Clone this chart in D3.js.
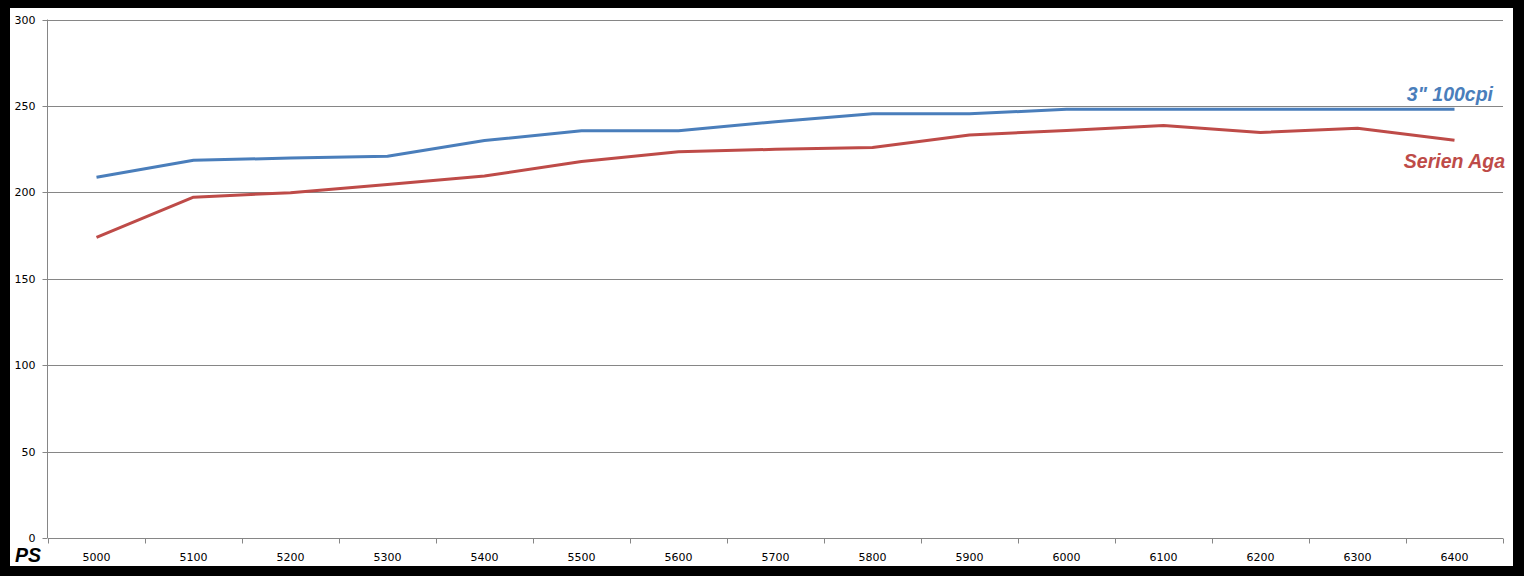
<!DOCTYPE html>
<html><head><meta charset="utf-8">
<script src="https://cdn.jsdelivr.net/npm/d3@7"></script>
<style>body{margin:0;background:#000}svg{display:block}</style>
</head><body>
<script>
const categories = ["5000","5100","5200","5300","5400","5500","5600","5700","5800","5900","6000","6100","6200","6300","6400"];
const blueValues = [208.7,218.6,219.8,220.9,230,235.6,235.6,240.9,245.4,245.4,248,248,248,248,248];
const redValues  = [174,197.2,199.8,204.6,209.4,217.8,223.5,224.9,226,233.2,235.8,238.6,234.6,237.1,230.2];
const yTicks = [0,50,100,150,200,250,300];
const seriesNames = ["3\" 100cpi","Serien Aga"];
const xAxisTitle = "PS";

(function(){
const W = 1524, H = 576;
const svg = d3.select("body").append("svg").attr("width", W).attr("height", H);
svg.append("rect").attr("x",0).attr("y",0).attr("width",W).attr("height",H).attr("fill","#000");
svg.append("rect").attr("x",10).attr("y",8).attr("width",1503).attr("height",558).attr("fill","#fff");

const pL = 48, pR = 1503, pT = 19.5, pB = 538;
const x = d3.scaleBand().domain(categories).range([pL, pR]);
const y = d3.scaleLinear().domain([0,300]).range([pB, pT]);
const grid = "#868686";

// gridlines
svg.append("g").selectAll("line").data(yTicks.filter(d=>d>0)).join("line")
  .attr("x1", pL).attr("x2", pR)
  .attr("y1", d=>Math.round(y(d))+0.5).attr("y2", d=>Math.round(y(d))+0.5)
  .attr("stroke", grid).attr("stroke-width",1);

// y axis
const yAxis = d3.axisLeft(y).tickValues(yTicks).tickSize(5).tickPadding(7);
const gy = svg.append("g").attr("transform",`translate(${pL-0.5},0)`).call(yAxis);
gy.select(".domain").attr("stroke",grid).attr("d",`M0,${pB}V${pT}`);
gy.selectAll(".tick line").attr("stroke",grid);
gy.selectAll(".tick").attr("transform", d=>`translate(0,${Math.round(y(d))+0.5})`);
gy.selectAll("text").attr("font-family","Tahoma, 'DejaVu Sans', sans-serif").attr("font-size","11px").attr("fill","#000");

// x axis
const gx = svg.append("g").attr("transform",`translate(0,${pB+0.5})`);
gx.append("line").attr("x1",pL).attr("x2",pR).attr("stroke",grid);
const bounds = categories.map(c=>x(c)).concat([pR]);
gx.selectAll("line.t").data(bounds).join("line").attr("class","t")
  .attr("x1",d=>Math.round(d)+0.5).attr("x2",d=>Math.round(d)+0.5).attr("y1",0).attr("y2",5).attr("stroke",grid);
gx.selectAll("text").data(categories).join("text")
  .attr("x", d=>x(d)+x.bandwidth()/2).attr("y", 22)
  .attr("text-anchor","middle").attr("font-family","Tahoma, 'DejaVu Sans', sans-serif").attr("font-size","11px").attr("fill","#000")
  .text(d=>d);

// lines
const line = vals => d3.line().x((d,i)=>x(categories[i])+x.bandwidth()/2).y(d=>y(d))(vals);
svg.append("path").attr("d", line(blueValues)).attr("fill","none").attr("stroke","#4A7EBB").attr("stroke-width",3).attr("stroke-linejoin","round");
svg.append("path").attr("d", line(redValues)).attr("fill","none").attr("stroke","#BE4B48").attr("stroke-width",3).attr("stroke-linejoin","round");

// labels
const lf = "Arial, 'Liberation Sans', sans-serif";
svg.append("text").attr("x",1493).attr("y",101).attr("text-anchor","end")
  .attr("font-family",lf).attr("font-weight","bold").attr("font-style","italic").attr("font-size","19.5px").attr("fill","#4A7EBB").text(seriesNames[0]);
svg.append("text").attr("x",1505).attr("y",168).attr("text-anchor","end")
  .attr("font-family",lf).attr("font-weight","bold").attr("font-style","italic").attr("font-size","19.5px").attr("fill","#BE4B48").text(seriesNames[1]);
svg.append("text").attr("x",15).attr("y",562)
  .attr("font-family",lf).attr("font-weight","bold").attr("font-style","italic").attr("font-size","19.5px").attr("fill","#000").text(xAxisTitle);
})();
</script>
</body></html>
